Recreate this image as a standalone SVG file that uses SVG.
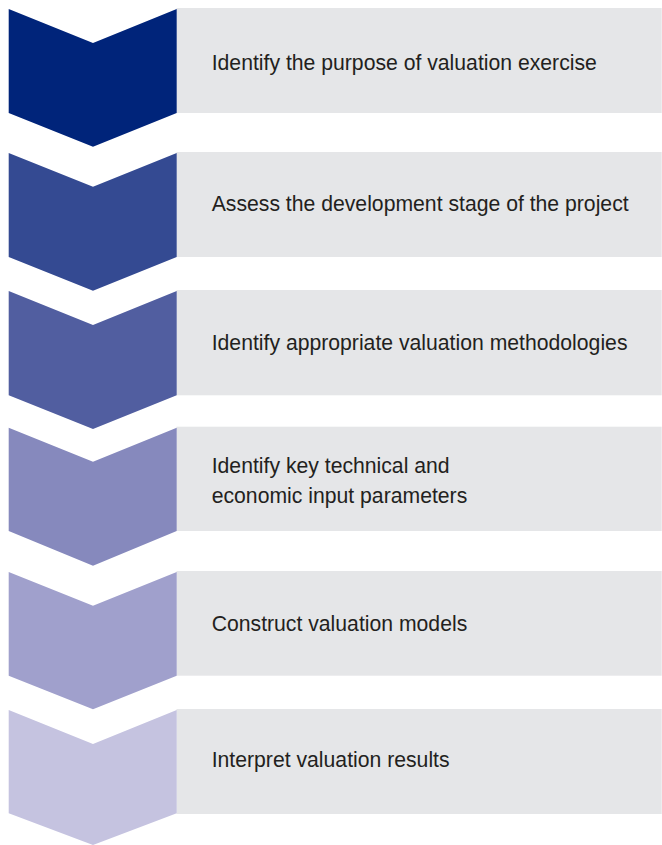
<svg xmlns="http://www.w3.org/2000/svg" width="662" height="845" viewBox="0 0 662 845">
<style>
.box{fill:#e5e6e8}
.lbl{font-family:"Liberation Sans",Arial,sans-serif;font-size:21.2px;fill:#231f20}
</style>
<rect x="0" y="0" width="662" height="845" fill="#ffffff"/>
<g id="step1">
<rect class="box" x="176.5" y="8" width="485.2" height="105"/>
<polygon fill="#00247a" points="8.7,9 93,43 176.7,9 176.7,113 93,146.7 8.7,113"/>
<text class="lbl" x="211.7" y="69.5">Identify the purpose of valuation exercise</text>
</g>
<g id="step2">
<rect class="box" x="176.5" y="152" width="485.2" height="105"/>
<polygon fill="#344a92" points="8.7,153 93,186.7 176.7,153 176.7,257 93,290.7 8.7,257"/>
<text class="lbl" x="211.7" y="211">Assess the development stage of the project</text>
</g>
<g id="step3">
<rect class="box" x="176.5" y="290" width="485.2" height="105.3"/>
<polygon fill="#515ea0" points="8.7,291 93,325 176.7,291 176.7,395.3 93,429 8.7,395.3"/>
<text class="lbl" x="211.7" y="350">Identify appropriate valuation methodologies</text>
</g>
<g id="step4">
<rect class="box" x="176.5" y="426.7" width="485.2" height="104.3"/>
<polygon fill="#8689bd" points="8.7,427.7 93,461.7 176.7,427.7 176.7,531 93,565.7 8.7,531"/>
<text class="lbl" x="211.7" y="473.3">Identify key technical and</text>
<text class="lbl" x="211.7" y="503.3">economic input parameters</text>
</g>
<g id="step5">
<rect class="box" x="176.5" y="571" width="485.2" height="104.7"/>
<polygon fill="#a0a0cc" points="8.7,572 93,605.7 176.7,572 176.7,675.7 93,709.3 8.7,675.7"/>
<text class="lbl" x="211.7" y="630.7">Construct valuation models</text>
</g>
<g id="step6">
<rect class="box" x="176.5" y="709" width="485.2" height="105"/>
<polygon fill="#c5c3e0" points="8.7,710 93,744 176.7,710 176.7,813.3 93,845 8.7,813.3"/>
<text class="lbl" x="211.7" y="766.7">Interpret valuation results</text>
</g>
<g id="connectors"/>
</svg>
